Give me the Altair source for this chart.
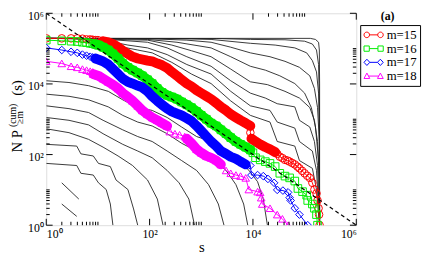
import altair as alt
import pandas as pd

# ---------------- data: log10(s), log10(N P) pairs ----------------
# coloured series m=15..18 : sparse head (s=1,2,3...), dense bands, sparse tail
red_head = [(0, 5.29), (.30, 5.29), (.48, 5.29), (.60, 5.29), (.70, 5.28), (.78, 5.26), (.85, 5.26), (.90, 5.25), (.95, 5.24), (1.0, 5.24)]
red_band1 = [(1.10, 5.21), (1.20, 5.18), (1.29, 5.13), (1.39, 5.04), (1.48, 4.94), (1.58, 4.85), (1.67, 4.77), (1.77, 4.72),
             (1.86, 4.69), (1.96, 4.66), (2.05, 4.64), (2.15, 4.58), (2.24, 4.53), (2.34, 4.45), (2.43, 4.34), (2.53, 4.23),
             (2.62, 4.12), (2.72, 4.01), (2.81, 3.93), (2.91, 3.82), (3.0, 3.74), (3.10, 3.65), (3.19, 3.57), (3.29, 3.46),
             (3.38, 3.35), (3.48, 3.25), (3.57, 3.14), (3.67, 3.05), (3.76, 2.97), (3.86, 2.89), (3.95, 2.81)]
red_mid = [(3.95, 2.62)]
red_band2 = [(3.97, 2.45), (4.05, 2.37), (4.14, 2.29), (4.24, 2.21), (4.33, 2.15), (4.43, 2.07)]
red_tail = [(4.47, 2.02), (4.52, 1.94), (4.57, 1.90), (4.62, 1.85), (4.67, 1.83), (4.71, 1.80), (4.76, 1.76), (4.81, 1.72),
            (4.86, 1.66), (4.90, 1.61), (4.95, 1.54), (5.0, 1.47), (5.05, 1.40), (5.10, 1.34), (5.15, 1.20), (5.19, 1.01),
            (5.23, 0.90), (5.25, 0.70), (5.27, 0.48), (5.28, 0.30), (5.29, 0.0)]

green_head = [(0, 5.24), (.30, 5.22), (.48, 5.21), (.60, 5.20), (.70, 5.18), (.78, 5.17), (.85, 5.15), (.90, 5.14)]
green_band1 = [(0.95, 5.12), (1.01, 5.10), (1.10, 5.04), (1.20, 4.96), (1.29, 4.85), (1.39, 4.72), (1.48, 4.58), (1.58, 4.47),
               (1.67, 4.39), (1.77, 4.31), (1.86, 4.23), (1.96, 4.12), (2.05, 4.01), (2.15, 3.87), (2.24, 3.76), (2.34, 3.68),
               (2.43, 3.63), (2.53, 3.57), (2.62, 3.49), (2.72, 3.41), (2.81, 3.33), (2.91, 3.22), (3.0, 3.11), (3.10, 3.00),
               (3.19, 2.89), (3.29, 2.81), (3.38, 2.70), (3.48, 2.59), (3.57, 2.48), (3.67, 2.37), (3.76, 2.29), (3.86, 2.21),
               (3.95, 2.13)]
green_mid = []
green_band2 = []
green_tail = [(4.0, 2.05), (4.05, 1.91), (4.14, 1.85), (4.24, 1.80), (4.33, 1.75), (4.43, 1.66), (4.52, 1.47), (4.62, 1.39),
              (4.71, 1.34), (4.81, 1.25), (4.87, 1.04), (4.96, 0.95), (5.04, 0.85), (5.06, 0.70), (5.15, 0.60), (5.19, 0.48),
              (5.23, 0.30), (5.25, 0.0)]

blue_head = [(0, 5.02), (.30, 4.96), (.48, 4.91), (.60, 4.88), (.70, 4.83), (.78, 4.80), (.85, 4.77), (.90, 4.75)]
blue_band1 = [(0.95, 4.72), (1.01, 4.69), (1.10, 4.64), (1.20, 4.55), (1.29, 4.42), (1.39, 4.28), (1.48, 4.15), (1.58, 4.06),
              (1.67, 4.01), (1.77, 3.95), (1.86, 3.90), (1.96, 3.79), (2.05, 3.65), (2.15, 3.52), (2.24, 3.41), (2.34, 3.30),
              (2.43, 3.22), (2.53, 3.16), (2.62, 3.11), (2.72, 3.03), (2.81, 2.95), (2.91, 2.81), (3.0, 2.67), (3.10, 2.51),
              (3.19, 2.37), (3.29, 2.24), (3.38, 2.10), (3.48, 2.02), (3.57, 1.94), (3.67, 1.88), (3.76, 1.80), (3.86, 1.72)]
blue_mid = []
blue_band2 = []
blue_tail = [(3.95, 1.69), (3.97, 1.42), (4.09, 1.42), (4.20, 1.39), (4.29, 1.31), (4.41, 1.20), (4.47, 1.0), (4.58, 0.98),
             (4.68, 0.93), (4.71, 0.78), (4.73, 0.70), (4.81, 0.48), (4.90, 0.30), (5.06, 0.0)]

magenta_head = [(0, 4.64), (.30, 4.58), (.48, 4.50), (.60, 4.47), (.70, 4.42), (.78, 4.39), (.85, 4.36), (.90, 4.34)]
magenta_band1 = [(0.91, 4.28), (1.01, 4.23), (1.10, 4.15), (1.20, 4.06), (1.29, 3.98), (1.39, 3.87), (1.48, 3.74), (1.58, 3.63),
                 (1.67, 3.52), (1.77, 3.38), (1.86, 3.25), (1.96, 3.14), (2.05, 3.05), (2.15, 2.97), (2.24, 2.89), (2.34, 2.81)]
magenta_mid = [(2.39, 2.65), (2.49, 2.59), (2.58, 2.56), (2.68, 2.51)]
magenta_band2 = [(2.72, 2.45), (2.81, 2.32), (2.91, 2.15), (3.0, 2.05), (3.10, 1.96), (3.19, 1.91), (3.29, 1.83), (3.38, 1.72)]
magenta_tail = [(3.48, 1.55), (3.57, 1.47), (3.67, 1.42), (3.76, 1.39), (3.86, 1.34), (3.92, 1.01), (4.09, 0.95), (4.14, 0.93),
                (4.16, 0.78), (4.18, 0.60), (4.33, 0.48), (4.47, 0.30), (4.57, 0.18), (4.68, 0.0)]

# black curves (other m)
u0 = [(0, 5.29), (5.11, 5.29), (5.21, 5.26), (5.27, 5.18), (5.285, 4.96), (5.29, 4.0), (5.29, 0)]
u1 = [(0, 5.29), (3.29, 5.285), (3.95, 5.26), (4.62, 5.25), (5.0, 5.21), (5.15, 5.13), (5.23, 4.96), (5.27, 4.55), (5.285, 3.46), (5.29, 0)]
u2 = [(0, 5.29), (2.53, 5.28), (3.19, 5.26), (3.95, 5.15), (4.43, 5.10), (4.81, 5.02), (5.04, 4.88), (5.15, 4.66), (5.23, 4.34),
      (5.27, 3.74), (5.285, 2.65), (5.29, 0)]
u3 = [(0, 5.29), (1.96, 5.28), (2.72, 5.24), (3.19, 5.18), (3.57, 5.04), (3.95, 4.88), (4.33, 4.77), (4.62, 4.64), (4.90, 4.47),
      (5.10, 4.23), (5.19, 3.87), (5.25, 3.33), (5.285, 2.37), (5.29, 0)]
u4 = [(0, 5.29), (1.39, 5.28), (1.96, 5.26), (2.53, 5.18), (3.19, 5.02), (3.57, 4.77), (3.95, 4.50), (4.24, 4.39), (4.52, 4.23),
      (4.81, 4.01), (5.0, 3.74), (5.13, 3.33), (5.21, 2.78), (5.27, 1.83), (5.29, 0)]
u5 = [(0, 5.29), (1.01, 5.28), (1.58, 5.25), (1.96, 5.24), (2.43, 5.10), (2.81, 4.94), (3.19, 4.77), (3.57, 4.42), (3.95, 4.06),
      (4.28, 3.98), (4.62, 3.79), (4.90, 3.60), (5.10, 3.33), (5.19, 2.97), (5.25, 2.37), (5.285, 1.28), (5.29, 0)]
u6 = [(0, 5.29), (0.82, 5.28), (1.39, 5.24), (1.96, 5.18), (2.34, 5.02), (2.72, 4.77), (3.19, 4.50), (3.57, 4.09), (3.95, 3.74),
      (4.24, 3.60), (4.47, 3.44), (4.81, 3.35), (4.90, 2.97), (5.10, 2.78), (5.19, 2.37), (5.25, 1.69), (5.29, 0)]
u7 = [(0, 5.29), (0.63, 5.28), (1.20, 5.21), (1.58, 5.10), (1.96, 5.02), (2.34, 4.83), (2.72, 4.55), (3.19, 4.28), (3.57, 3.79),
      (3.95, 3.38), (4.33, 3.25), (4.47, 2.92), (4.81, 2.75), (4.90, 2.37), (5.15, 2.10), (5.23, 1.55), (5.29, 0)]
u8 = [(0, 5.29), (0.53, 5.28), (1.01, 5.21), (1.39, 5.07), (1.77, 4.96), (2.05, 4.88), (2.43, 4.61), (2.81, 4.28), (3.19, 4.01),
      (3.57, 3.52), (3.95, 3.11), (4.33, 2.92), (4.47, 2.37), (4.81, 2.24), (4.90, 1.83), (5.15, 1.61), (5.23, 1.01), (5.29, 0)]
l1 = [(0, 4.09), (0.44, 4.04), (0.82, 3.95), (1.20, 3.79), (1.48, 3.55), (1.77, 3.33), (2.05, 3.25), (2.34, 3.05), (2.62, 2.78),
      (2.91, 2.51), (3.19, 2.37), (3.48, 2.10), (3.76, 1.83), (3.95, 1.50), (4.09, 1.23), (4.20, 0.74), (4.28, 0)]
l2 = [(0, 3.71), (0.44, 3.65), (0.82, 3.55), (1.20, 3.35), (1.48, 3.11), (1.77, 2.92), (2.05, 2.81), (2.34, 2.59), (2.62, 2.32),
      (2.91, 2.10), (3.19, 1.91), (3.48, 1.55), (3.67, 1.15), (3.82, 0.60), (3.90, 0)]
l3 = [(0, 3.38), (0.44, 3.30), (0.82, 3.19), (1.10, 2.97), (1.48, 2.70), (1.77, 2.51), (2.05, 2.37), (2.34, 2.10), (2.62, 1.83),
      (2.91, 1.55), (3.14, 1.15), (3.33, 0.60), (3.44, 0)]
l4 = [(0, 3.05), (0.44, 2.97), (0.82, 2.84), (1.10, 2.59), (1.48, 2.29), (1.77, 2.10), (2.05, 1.91), (2.34, 1.55), (2.57, 1.20),
      (2.76, 0.74), (2.87, 0)]
l5 = [(0, 2.73), (0.44, 2.62), (0.82, 2.43), (1.10, 2.21), (1.39, 1.96), (1.67, 1.69), (1.96, 1.28), (2.15, 0.74), (2.26, 0)]
l6 = [(0, 2.29), (0.59, 2.24), (0.67, 2.02), (0.91, 1.96), (1.01, 1.75), (1.24, 1.66), (1.35, 1.28), (1.58, 1.01), (1.69, 0.46), (1.77, 0)]
l7 = [(0, 1.75), (0.59, 1.69), (0.67, 1.47), (0.91, 1.42), (1.01, 1.20), (1.16, 1.01), (1.24, 0.60), (1.29, 0)]
l8 = [(0.30, 1.20), (0.63, 0.74)]
l9 = [(0.30, 0.60), (0.59, 0.25)]
black_curves = [u0, u1, u2, u3, u4, u5, u6, u7, u8, l1, l2, l3, l4, l5, l6, l7, l8, l9]

dash_s = [1, 1e6]
dash_y = [1e6, 1]

labels = ["m=15", "m=16", "m=17", "m=18"]
colors = ["#ff0000", "#00ee00", "#0000ff", "#ff00ff"]
shapes = ["circle", "square", "diamond", "triangle-up"]
# legend glyphs "o-o": drawn asymmetrically (x from -1 to 2.2) so the row height stays small
legend_paths = [
    "M-1,0 A0.46,0.46 0 1,0 -0.08,0 A0.46,0.46 0 1,0 -1,0 Z M-0.08,0 L1.28,0 "
    "M1.28,0 A0.46,0.46 0 1,0 2.2,0 A0.46,0.46 0 1,0 1.28,0 Z",
    "M-1,-0.44 L-0.12,-0.44 L-0.12,0.44 L-1,0.44 Z M-0.12,0 L1.32,0 M1.32,-0.44 L2.2,-0.44 L2.2,0.44 L1.32,0.44 Z",
    "M-1,0 L-0.52,-0.52 L-0.04,0 L-0.52,0.52 Z M-0.04,0 L1.24,0 M1.24,0 L1.72,-0.52 L2.2,0 L1.72,0.52 Z",
    "M-1,0.4 L-0.52,-0.5 L-0.04,0.4 Z M-0.28,0 L1.48,0 M1.24,0.4 L1.72,-0.5 L2.2,0.4 Z",
]
series_parts = [
    (red_head, red_band1, red_mid, red_band2, red_tail),
    (green_head, green_band1, green_mid, green_band2, green_tail),
    (blue_head, blue_band1, blue_mid, blue_band2, blue_tail),
    (magenta_head, magenta_band1, magenta_mid, magenta_band2, magenta_tail),
]

x_major = [1, 100, 1e4, 1e6]
x_minor = [2, 3, 4, 5, 6, 7, 8, 9, 10, 200, 300, 400, 500, 600, 700, 800, 900, 1000,
           2e4, 3e4, 4e4, 5e4, 6e4, 7e4, 8e4, 9e4, 1e5]
y_major = x_major
y_minor = x_minor

# ---------------- layout ----------------
W, H = 316, 216
SERIF = "Liberation Serif"
sup = "'10' + (datum.value == 1 ? '⁰' : datum.value == 100 ? '²' : datum.value == 10000 ? '⁴' : '⁶')"

xscale = alt.Scale(type="log", domain=[1, 1e6], nice=False)
yscale = alt.Scale(type="log", domain=[1, 1e6], nice=False)
xaxis = alt.Axis(values=x_major, labelExpr=sup, ticks=False, tickSize=0, domain=False, grid=False, title="s",
                 labelFont=SERIF, labelFontSize=12, labelColor="black", labelPadding=4,
                 titleFont=SERIF, titleFontSize=15, titleFontWeight="normal", titleColor="black",
                 titleY=27, titleBaseline="alphabetic")
yaxis = alt.Axis(values=y_major, labelExpr=sup, ticks=False, tickSize=0, domain=False, grid=False, title=None,
                 labelFont=SERIF, labelFontSize=12, labelColor="black", labelPadding=3, labelOffset=2)
X = alt.X("s:Q", scale=xscale, axis=xaxis)
Y = alt.Y("y:Q", scale=yscale, axis=yaxis)

# black curves frame
rows = []
for ci, c in enumerate(black_curves):
    for k, (lx, ly) in enumerate(c):
        rows.append({"curve": ci, "order": k, "s": 10 ** lx, "y": 10 ** ly})
black_df = pd.DataFrame(rows)

layers = [
    alt.Chart(black_df).mark_line(color="#222222", strokeWidth=0.9, clip=True).encode(
        x=X, y=Y, detail="curve:N", order="order:Q")
]

for lab, col, shp, parts in zip(labels, colors, shapes, series_parts):
    all_rows, band_rows = [], []
    k = 0
    for pi, part in enumerate(parts):
        for lx, ly in part:
            r = {"m": lab, "order": k, "s": 10 ** lx, "y": 10 ** ly}
            all_rows.append(r)
            if pi in (1, 3):
                band_rows.append(dict(r, band=f"{lab}-{pi}"))
            k += 1
    df_all = pd.DataFrame(all_rows)
    df_band = pd.DataFrame(band_rows)
    layers.append(alt.Chart(df_all).mark_line(color=col, strokeWidth=1, clip=True).encode(x=X, y=Y, order="order:Q"))
    layers.append(alt.Chart(df_band).mark_line(color=col, strokeWidth=10, strokeCap="round", strokeJoin="round",
                                               clip=True).encode(x=X, y=Y, detail="band:N", order="order:Q"))
    layers.append(alt.Chart(df_all).mark_point(shape=shp, color=col, filled=False, size=60, strokeWidth=1,
                                               clip=True, opacity=1).encode(x=X, y=Y))

dash_df = pd.DataFrame({"s": dash_s, "y": dash_y})
layers.append(alt.Chart(dash_df).mark_line(color="black", strokeWidth=1.2, strokeDash=[4, 3], clip=True).encode(x=X, y=Y))

# inward ticks on all four sides
def xt(vals, y0, y1):
    return alt.Chart(pd.DataFrame({"s": vals})).mark_rule(color="black", strokeWidth=1).encode(
        x=X, y=alt.value(y0), y2=alt.value(y1))

def yt(vals, x0, x1):
    return alt.Chart(pd.DataFrame({"y": vals})).mark_rule(color="black", strokeWidth=1).encode(
        y=Y, x=alt.value(x0), x2=alt.value(x1))

layers += [xt(x_major, H, H - 6.5), xt(x_minor, H, H - 3.5), xt(x_major, 0, 6.5), xt(x_minor, 0, 3.5),
           yt(y_major, 0, 6.5), yt(y_minor, 0, 3.5), yt(y_major, W, W - 6.5), yt(y_minor, W, W - 3.5)]

# legend (dummy points outside the domain, clipped)
leg_df = pd.DataFrame({"m": labels, "s": [1e-3] * 4, "y": [1e-3] * 4})
leg = alt.Legend(title=None, orient="none", legendX=320, legendY=12, strokeColor="black", padding=3,
                 labelFont=SERIF, labelFontSize=13, labelColor="black", symbolSize=150, symbolStrokeWidth=1,
                 rowPadding=0, labelOffset=10, symbolOpacity=1)
layers.append(alt.Chart(leg_df).mark_point(filled=False, clip=True, strokeWidth=1).encode(
    x=X, y=Y,
    color=alt.Color("m:N", scale=alt.Scale(domain=labels, range=colors), legend=leg),
    shape=alt.Shape("m:N", scale=alt.Scale(domain=labels, range=legend_paths), legend=leg)))

# texts: panel label and y-axis title pieces
def txt(t, x, y, size, angle=0, align="center", weight="normal"):
    return alt.Chart(alt.Data(values=[{}])).mark_text(text=t, font=SERIF, fontSize=size, angle=angle, align=align,
                                                      baseline="middle", fontWeight=weight, color="black").encode(
        x=alt.value(x), y=alt.value(y))

layers += [
    txt("(a)", 348, 3, 12, weight="bold"),
    txt("N P", -29.5, 142, 15, angle=270, align="left"),
    txt("(cum)", -33.5, 116, 10, angle=270, align="left"),
    txt("≥m", -26.5, 113, 10, angle=270, align="left"),
    txt("(s)", -29.5, 84, 15, angle=270, align="left"),
]

chart = alt.layer(*layers).properties(
    width=W, height=H,
    autosize=alt.AutoSizeParams(type="none"),
    padding={"left": 39, "top": 3, "right": 68, "bottom": 29},
).configure_view(stroke="black", strokeWidth=1).configure(background="white")

chart.save("out.html", embed_options={"renderer": "svg", "actions": False})
